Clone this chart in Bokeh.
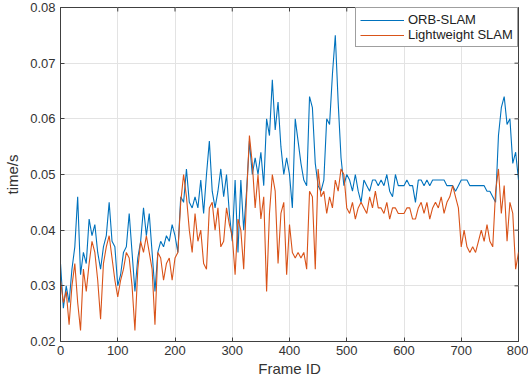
import math
from bokeh.plotting import figure
from bokeh.models import ColumnDataSource, Legend, LegendItem, FixedTicker, Range1d
from bokeh.embed import file_html
from bokeh.resources import INLINE

frames = list(range(0, 801, 5))

orb_slam = [
    0.034, 0.026, 0.030, 0.027, 0.033, 0.037, 0.046, 0.032, 0.036, 0.034,
    0.042, 0.039, 0.041, 0.036, 0.033, 0.037, 0.039, 0.045, 0.038, 0.037,
    0.030, 0.032, 0.036, 0.037, 0.043, 0.036, 0.029, 0.035, 0.038, 0.044,
    0.039, 0.043, 0.036, 0.029, 0.036, 0.038, 0.037, 0.039, 0.038, 0.041,
    0.039, 0.036, 0.046, 0.045, 0.051, 0.045, 0.044, 0.046, 0.044, 0.049,
    0.043, 0.050, 0.056, 0.047, 0.044, 0.047, 0.051, 0.046, 0.050, 0.043,
    0.038, 0.049, 0.036, 0.049, 0.040, 0.047, 0.056, 0.050, 0.053, 0.050,
    0.054, 0.048, 0.060, 0.057, 0.067, 0.058, 0.063, 0.055, 0.050, 0.053,
    0.050, 0.044, 0.060, 0.056, 0.052, 0.049, 0.048, 0.064, 0.062, 0.052,
    0.048, 0.047, 0.049, 0.060, 0.059, 0.068, 0.075, 0.063, 0.053, 0.048,
    0.050, 0.049, 0.047, 0.050, 0.047, 0.045, 0.049, 0.048, 0.047, 0.049,
    0.049, 0.048, 0.049, 0.048, 0.050, 0.047, 0.046, 0.050, 0.048, 0.048,
    0.048, 0.049, 0.048, 0.048, 0.045, 0.049, 0.049, 0.048, 0.049, 0.048,
    0.049, 0.049, 0.049, 0.049, 0.049, 0.048, 0.048, 0.048, 0.047, 0.048,
    0.049, 0.049, 0.049, 0.048, 0.048, 0.048, 0.048, 0.048, 0.048, 0.047,
    0.047, 0.046, 0.045, 0.057, 0.062, 0.064, 0.059, 0.060, 0.052, 0.054,
    0.049,
]

lightweight_slam = [
    0.031, 0.027, 0.029, 0.023, 0.030, 0.034, 0.027, 0.022, 0.033, 0.029,
    0.034, 0.038, 0.036, 0.031, 0.024, 0.034, 0.037, 0.039, 0.035, 0.031,
    0.028, 0.031, 0.033, 0.036, 0.035, 0.030, 0.022, 0.033, 0.038, 0.036,
    0.039, 0.036, 0.033, 0.023, 0.036, 0.035, 0.031, 0.034, 0.035, 0.031,
    0.035, 0.036, 0.045, 0.050, 0.046, 0.040, 0.036, 0.043, 0.038, 0.040,
    0.034, 0.033, 0.044, 0.045, 0.040, 0.044, 0.037, 0.038, 0.044, 0.041,
    0.039, 0.032, 0.042, 0.040, 0.033, 0.046, 0.057, 0.052, 0.044, 0.050,
    0.042, 0.046, 0.029, 0.043, 0.050, 0.047, 0.034, 0.043, 0.045, 0.032,
    0.041, 0.036, 0.035, 0.036, 0.035, 0.036, 0.033, 0.047, 0.046, 0.033,
    0.051, 0.046, 0.047, 0.043, 0.046, 0.044, 0.049, 0.047, 0.051, 0.050,
    0.044, 0.043, 0.045, 0.042, 0.044, 0.045, 0.044, 0.043, 0.046, 0.044,
    0.047, 0.044, 0.044, 0.043, 0.045, 0.042, 0.044, 0.044, 0.043, 0.043,
    0.043, 0.044, 0.044, 0.042, 0.042, 0.044, 0.045, 0.043, 0.045, 0.042,
    0.044, 0.045, 0.044, 0.046, 0.043, 0.045, 0.046, 0.048, 0.046, 0.044,
    0.037, 0.040, 0.037, 0.036, 0.037, 0.036, 0.038, 0.040, 0.038, 0.041,
    0.038, 0.037, 0.047, 0.051, 0.043, 0.048, 0.038, 0.045, 0.043, 0.033,
    0.036,
]

x_ticks = [0, 100, 200, 300, 400, 500, 600, 700, 800]
y_ticks = [0.02, 0.03, 0.04, 0.05, 0.06, 0.07, 0.08]

src = ColumnDataSource(dict(frame=frames, orb=orb_slam, light=lightweight_slam))

FONT = "Liberation Sans"
AX = "#404040"
TXT = "#333333"

p = figure(width=528, height=382, output_backend="svg", toolbar_location=None,
           x_range=Range1d(0, 800), y_range=Range1d(0.02, 0.08),
           min_border_left=60, min_border_right=10, min_border_top=7, min_border_bottom=41)
p.background_fill_color = "white"
p.border_fill_color = "white"
p.outline_line_color = AX
p.outline_line_width = 1

p.xgrid.ticker = FixedTicker(ticks=x_ticks)
p.ygrid.ticker = FixedTicker(ticks=y_ticks)
p.grid.grid_line_color = "#e3e3e3"
p.grid.grid_line_width = 1

r1 = p.line("frame", "orb", source=src, line_color="#0072BD", line_width=1.1)
r2 = p.line("frame", "light", source=src, line_color="#D95319", line_width=1.1)

# inward tick marks on the right and top edges (box style)
p.scatter(x=[x_ticks[-1]] * len(y_ticks), y=y_ticks, marker="dash", size=8,
          line_color=AX, line_width=1)
p.scatter(x=x_ticks, y=[y_ticks[-1]] * len(x_ticks), marker="dash", size=8,
          angle=math.pi / 2, line_color=AX, line_width=1)

for ax in (p.xaxis[0], p.yaxis[0]):
    ax.major_tick_in = 4
    ax.major_tick_out = 0
    ax.minor_tick_line_color = None
    ax.axis_line_color = AX
    ax.major_tick_line_color = AX
    ax.major_label_text_font = FONT
    ax.major_label_text_font_size = "13px"
    ax.major_label_text_color = TXT
    ax.axis_label_text_font = FONT
    ax.axis_label_text_font_size = "15px"
    ax.axis_label_text_color = TXT
    ax.axis_label_text_font_style = "normal"

p.xaxis[0].ticker = FixedTicker(ticks=x_ticks)
p.yaxis[0].ticker = FixedTicker(ticks=y_ticks)
p.yaxis[0].formatter.use_scientific = False
p.xaxis[0].axis_label = "Frame ID"
p.yaxis[0].axis_label = "time/s"
p.xaxis[0].major_label_standoff = 4
p.yaxis[0].major_label_standoff = 5
p.xaxis[0].axis_label_standoff = 2
p.yaxis[0].axis_label_standoff = 6

legend = Legend(items=[LegendItem(label="ORB-SLAM", renderers=[r1]),
                       LegendItem(label="Lightweight SLAM", renderers=[r2])],
                location="top_right")
legend.margin = 0
legend.padding = 4
legend.spacing = 0
legend.glyph_width = 44
legend.glyph_height = 14
legend.label_height = 14
legend.label_width = 105
legend.label_standoff = 4
legend.label_text_font = FONT
legend.label_text_font_size = "13px"
legend.label_text_color = "#222222"
legend.border_line_color = AX
legend.border_line_width = 1
legend.background_fill_color = "white"
legend.background_fill_alpha = 1
p.add_layout(legend)

open("out.html", "w").write(file_html(p, INLINE))
